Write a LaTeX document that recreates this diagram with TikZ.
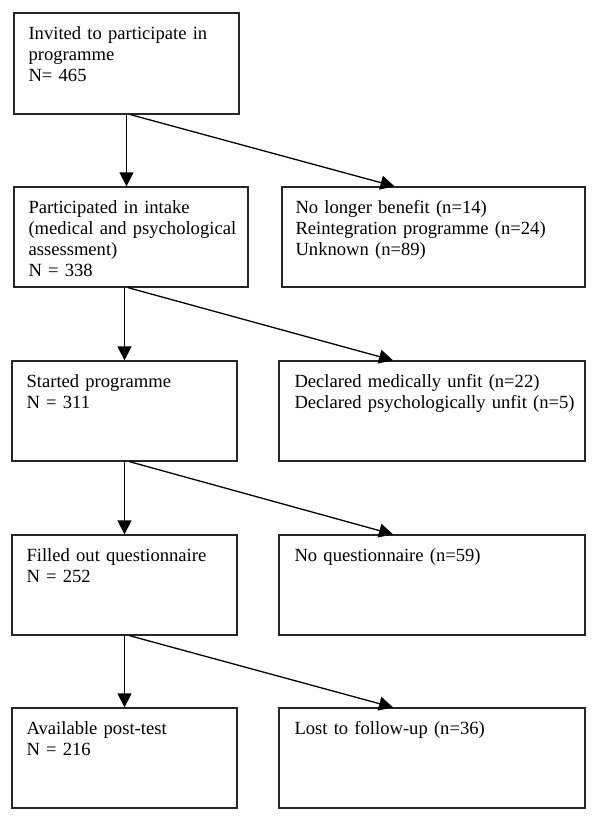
\documentclass[tikz,border=0pt]{standalone}
\usepackage{fontspec}
\setmainfont{Liberation Serif}
\usetikzlibrary{arrows.meta}
\begin{document}
\begin{tikzpicture}[x=1pt,y=-1pt,
  box/.style={draw=black!85,line width=1.3pt,rectangle,inner sep=0pt,minimum height=100pt},
  lbox/.style={box,minimum width=225pt},
  rbox/.style={box,minimum width=306pt},
  txt/.style={anchor=base west,inner sep=0pt,align=left,text width=300pt,
    font=\fontsize{18.6}{21}\selectfont},
  arr/.style={line width=1.3pt,-{Triangle[length=14pt,width=14pt]}}]
\useasboundingbox (0,0) rectangle (600,827);
% boxes
\node[lbox,minimum height=101pt] (b1) at (126.5,63.5) {};
\node[box,minimum width=234pt] (b2) at (131,237) {};
\node[box,minimum width=303pt] (r1) at (433.5,237) {};
\node[lbox] (b3) at (124.5,411) {};
\node[rbox] (r2) at (432,411) {};
\node[lbox] (b4) at (124.5,585) {};
\node[rbox] (r3) at (432,585) {};
\node[lbox] (b5) at (124.5,758) {};
\node[rbox] (r4) at (432,758) {};
% texts
\node[txt] (t1) at ([xshift=15pt,yshift=-27pt]b1.north west) {Invited to participate in\\programme\\N= 465};
\node[txt] (t2) at ([xshift=15pt,yshift=-27pt]b2.north west) {Participated in intake\\(medical and psychological\\assessment)\\N = 338};
\node[txt] (t3) at ([xshift=14pt,yshift=-27pt]r1.north west) {No longer benefit (n=14)\\Reintegration programme (n=24)\\Unknown (n=89)};
\node[txt] (t4) at ([xshift=15pt,yshift=-27pt]b3.north west) {Started programme\\N = 311};
\node[txt] (t5) at ([xshift=16pt,yshift=-27pt]r2.north west) {Declared medically unfit (n=22)\\Declared psychologically unfit (n=5)};
\node[txt] (t6) at ([xshift=15pt,yshift=-27pt]b4.north west) {Filled out questionnaire\\N = 252};
\node[txt] (t7) at ([xshift=16pt,yshift=-27pt]r3.north west) {No questionnaire (n=59)};
\node[txt] (t8) at ([xshift=15pt,yshift=-27pt]b5.north west) {Available post-test\\N = 216};
\node[txt] (t9) at ([xshift=16pt,yshift=-27pt]r4.north west) {Lost to follow-up (n=36)};
% vertical arrows
\draw[arr] (b1.south) -- (b1.south |- b2.north);
\draw[arr] (b3.north |- b2.south) -- (b3.north);
\draw[arr] (b3.south) -- (b4.north);
\draw[arr] (b4.south) -- (b5.north);
% diagonal arrows
\draw[arr] ([xshift=4pt]b1.south) -- ([xshift=-39pt]r1.north);
\draw[arr] ([xshift=-3pt]b2.south) -- ([xshift=-39pt]r2.north);
\draw[arr] ([xshift=5pt]b3.south) -- ([xshift=-39pt]r3.north);
\draw[arr] ([xshift=5pt]b4.south) -- ([xshift=-39pt]r4.north);
\end{tikzpicture}
\end{document}
